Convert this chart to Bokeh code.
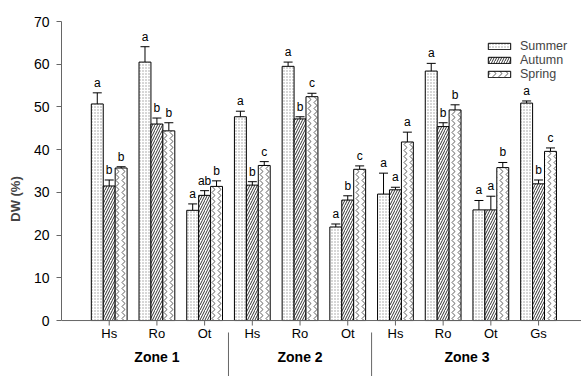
from bokeh.plotting import figure
from bokeh.models import (Range1d, FixedTicker, Whisker, TeeHead, ColumnDataSource,
                          Legend, LegendItem)
from bokeh.core.properties import value
from bokeh.embed import file_html
from bokeh.resources import INLINE

# Dry weight (%) by site, season and zone
species = ["Hs", "Ro", "Ot", "Hs", "Ro", "Ot", "Hs", "Ro", "Ot", "Gs"]
zones = ["Zone 1", "Zone 2", "Zone 3"]
zone_centers = [1.0, 4.0, 7.5]
zone_breaks = [2.5, 5.5]

summer = [50.7, 60.5, 25.8, 47.7, 59.5, 21.9, 29.6, 58.4, 25.9, 50.9]
summer_err = [2.6, 3.6, 1.5, 1.3, 1.0, 0.7, 4.9, 1.8, 2.2, 0.5]
autumn = [31.5, 46.0, 29.3, 31.7, 47.2, 28.2, 30.6, 45.4, 25.9, 32.0]
autumn_err = [1.4, 1.4, 1.1, 0.8, 0.5, 1.0, 0.6, 0.9, 3.2, 0.9]
spring = [35.7, 44.4, 31.4, 36.3, 52.4, 35.4, 41.8, 49.3, 35.8, 39.6]
spring_err = [0.3, 1.9, 1.3, 0.9, 0.8, 0.8, 2.3, 1.2, 1.2, 0.8]

summer_sig = ["a", "a", "a", "a", "a", "a", "a", "a", "a", "a"]
autumn_sig = ["b", "b", "ab", "b", "b", "b", "a", "b", "a", "b"]
spring_sig = ["b", "b", "b", "c", "c", "c", "a", "b", "b", "c"]

FONT = "Liberation Sans"
xpos = list(range(len(species)))
bar_w = 0.25

p = figure(width=581, height=376, output_backend="svg", toolbar_location=None,
           x_range=Range1d(-1.0, 9.9), y_range=Range1d(-13.1, 70),
           min_border_left=61, min_border_right=0, min_border_top=21,
           min_border_bottom=0)
p.outline_line_color = None
p.grid.grid_line_color = None
p.xaxis.visible = False
p.background_fill_color = "white"

ax = p.yaxis[0]
ax.ticker = FixedTicker(ticks=[0, 10, 20, 30, 40, 50, 60, 70])
ax.bounds = (0, 70)
ax.axis_line_color = "#666666"
ax.major_tick_line_color = "#666666"
ax.major_tick_out = 5
ax.major_tick_in = 0
ax.minor_tick_line_color = None
ax.major_label_text_font = FONT
ax.major_label_text_font_size = "14px"
ax.major_label_text_color = "black"
ax.major_label_standoff = 7
ax.axis_label = "DW (%)"
ax.axis_label_text_font = FONT
ax.axis_label_text_font_style = "bold"
ax.axis_label_text_font_size = "13px"
ax.axis_label_standoff = 8

series = [
    ("Summer", summer, summer_err, summer_sig, -bar_w,
     dict(hatch_pattern="dot", hatch_color="#9a9a9a", hatch_scale=3, hatch_weight=0.5)),
    ("Autumn", autumn, autumn_err, autumn_sig, 0.0,
     dict(hatch_pattern="right_diagonal_line", hatch_color="#333333", hatch_scale=5, hatch_weight=1)),
    ("Spring", spring, spring_err, spring_sig, bar_w,
     dict(hatch_pattern="vertical_wave", hatch_color="#333333", hatch_scale=6, hatch_weight=0.8)),
]

items = []
for name, vals, errs, sig, off, hatch in series:
    xs = [x + off for x in xpos]
    src = ColumnDataSource(dict(x=xs, top=vals,
                                upper=[v + e for v, e in zip(vals, errs)], sig=sig))
    w = Whisker(base="x", lower="top", upper="upper", source=src, dimension="height",
                line_color="black", line_width=1, lower_head=None,
                upper_head=TeeHead(size=9, line_color="black", line_width=1))
    p.add_layout(w)
    r = p.vbar(x="x", top="top", bottom=0, width=bar_w, source=src,
               fill_color="white", line_color="black", line_width=1, **hatch)
    p.text(x="x", y="upper", text="sig", source=src, text_align="center",
           text_baseline="bottom", y_offset=-3, text_font=value(FONT),
           text_font_size="12px", text_color="black")
    items.append(LegendItem(label=name, renderers=[r]))

# x axis drawn by hand so the zone captions and dividers can sit beneath it
p.segment(x0=[-1.0], y0=[0], x1=[9.9], y1=[0], line_color="#666666", line_width=1)
p.ray(x=xpos, y=[0] * len(xpos), length=5, length_units="screen",
      angle=-1.5708, line_color="#666666", line_width=1)
p.text(x=xpos, y=[0] * len(xpos), text=species, y_offset=13, text_align="center",
       text_baseline="middle", text_font=value(FONT), text_font_size="13px",
       text_color="black")
p.text(x=zone_centers, y=[0] * len(zones), text=zones, y_offset=36,
       text_align="center", text_baseline="middle", text_font=value(FONT),
       text_font_size="14px", text_font_style="bold", text_color="black")
p.segment(x0=zone_breaks, y0=[-2.8] * len(zone_breaks), x1=zone_breaks,
          y1=[-13.1] * len(zone_breaks), line_color="#666666", line_width=1)

legend = Legend(items=items, location=(424, 295), orientation="vertical",
                background_fill_alpha=0, border_line_color=None, padding=0, margin=0,
                spacing=0, glyph_width=28, glyph_height=8, label_standoff=7,
                label_text_font=FONT, label_text_font_size="12.5px", label_height=12)
p.add_layout(legend, "center")

open("out.html", "w").write(file_html(p, INLINE))
